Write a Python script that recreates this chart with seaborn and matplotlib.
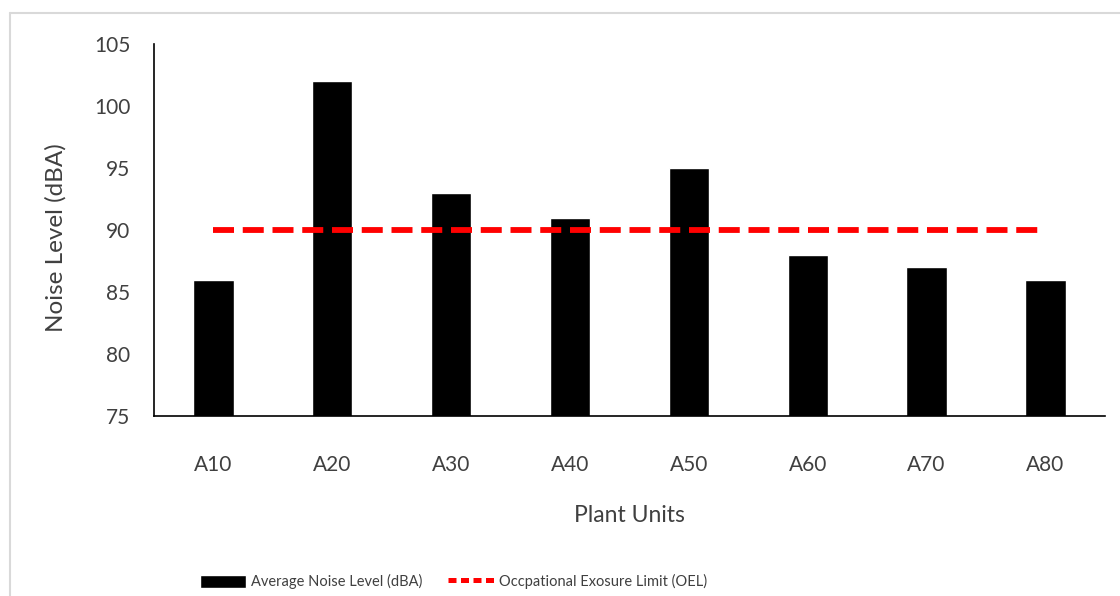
import matplotlib
matplotlib.use("Agg")
import matplotlib.pyplot as plt
import seaborn as sns
from matplotlib.lines import Line2D

# Noise survey by plant unit
units = ["A10", "A20", "A30", "A40", "A50", "A60", "A70", "A80"]
avg_noise = [86, 102, 93, 91, 95, 88, 87, 86]
oel_limit = [90, 90, 90, 90, 90, 90, 90, 90]
y_ticks = [75, 80, 85, 90, 95, 100, 105]

sns.set_theme(style="white")
plt.rcParams["font.family"] = ["Lato", "DejaVu Sans"]

text_color = "#404040"

fig = plt.figure(figsize=(11.2, 5.96), dpi=100)
ax = fig.add_axes([0.1375, 0.302, 0.849, 0.624])

# Outer chart frame (top and left edges)
frame_kw = dict(transform=fig.transFigure, color="#d9d9d9", linewidth=1.5)
fig.lines.append(Line2D([0.009, 1.0], [0.978, 0.978], **frame_kw))
fig.lines.append(Line2D([0.009, 0.009], [0.0, 0.978], **frame_kw))

sns.barplot(x=units, y=avg_noise, color="black", width=0.34, ax=ax,
            saturation=1, errorbar=None, legend=False)
bar_handle = ax.patches[0]
sns.lineplot(x=list(range(len(units))), y=oel_limit, color="#ff0000", linewidth=4.2,
             linestyle=(0, (3.6, 1.5)), ax=ax, legend=False)

ax.set_ylim(75, 105)
ax.set_yticks(y_ticks)
ax.set_xlim(-0.5, len(units) - 0.5)
ax.tick_params(axis="both", length=0, labelsize=15, colors=text_color)
ax.tick_params(axis="x", pad=28)
ax.tick_params(axis="y", pad=17)

for side in ["top", "right"]:
    ax.spines[side].set_visible(False)
for side in ["left", "bottom"]:
    ax.spines[side].set_color("black")
    ax.spines[side].set_linewidth(1.2)

ax.set_xlabel("Plant Units", fontsize=16.5, color=text_color, labelpad=22)
ax.set_ylabel("Noise Level (dBA)", fontsize=17.5, color=text_color)
ax.yaxis.set_label_coords(-0.092, 0.48)

legend_line = Line2D([], [], color="#ff0000", linewidth=3.6, linestyle=(0, (1.6, 0.9)))
fig.legend([bar_handle, legend_line],
           ["Average Noise Level (dBA)", "Occpational Exosure Limit (OEL)"],
           loc="center", bbox_to_anchor=(0.405, 0.024), ncol=2,
           frameon=False, fontsize=10.5, handlelength=3.1, handleheight=1.0,
           handletextpad=0.35, columnspacing=1.8, labelcolor=text_color)

fig.savefig("out.png", dpi=100)
